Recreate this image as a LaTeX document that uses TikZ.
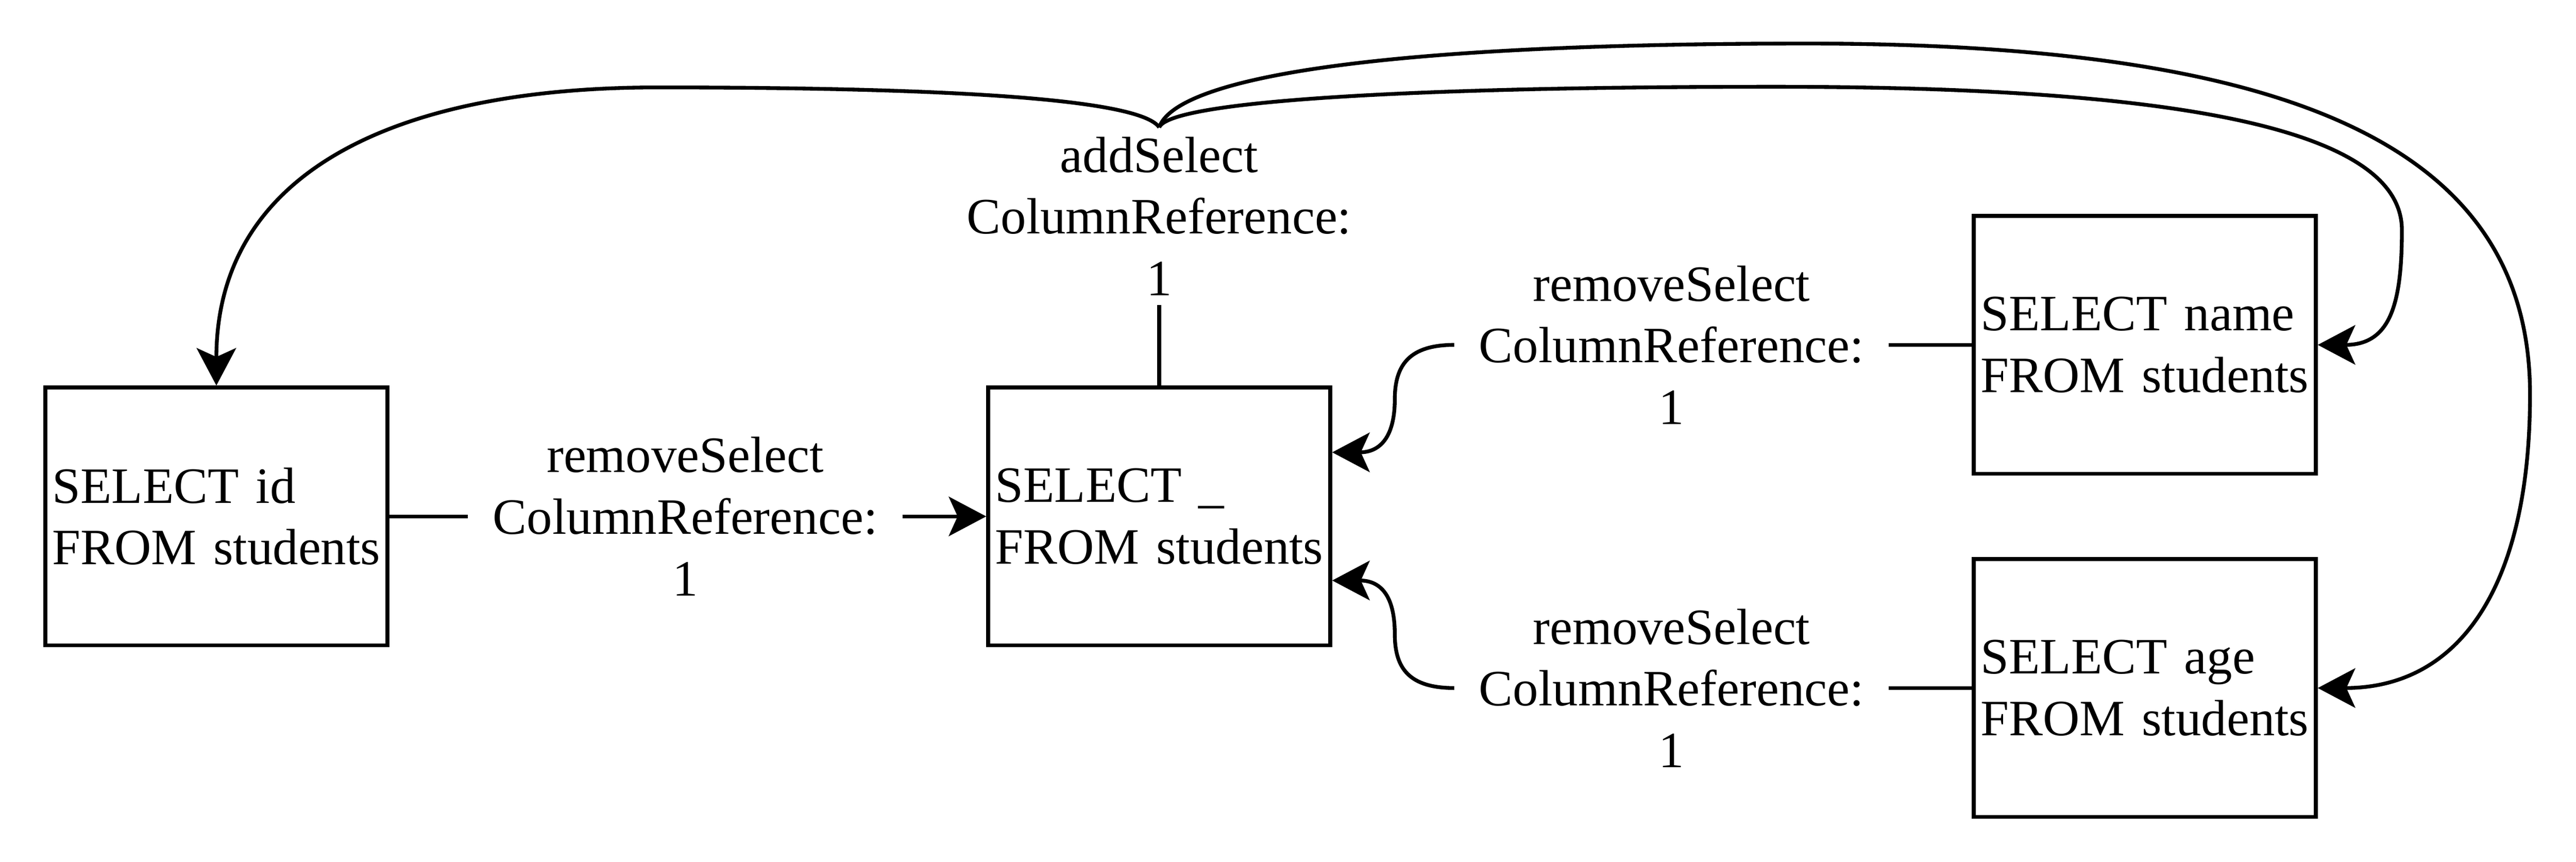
\documentclass[tikz,border=0pt]{standalone}
\usepackage{fontspec}
\setmainfont{Liberation Serif}
\usetikzlibrary{arrows.meta,calc}
\newcommand\dgfont{\fontsize{15.5pt}{18.75pt}\selectfont}
\begin{document}
\begin{tikzpicture}[x=0.5pt,y=-0.5pt,line width=1.15pt,
  box/.style={draw,rectangle,minimum width=104.15pt,minimum height=78.5pt,
    text width=99.95pt,inner xsep=2.1pt,inner ysep=0pt,align=left,font=\dgfont},
  lab/.style={align=center,inner xsep=7pt,inner ysep=2.35pt,font=\dgfont},
  arr/.style={-{Stealth[length=11.4pt,width=12pt,inset=2.7pt]}}]
\useasboundingbox (0,0) rectangle (1568,524.35);
% boxes
\node[box] (b1) at (131.7,314.3) {SELECT id\\FROM students};
\node[box] (b2) at (705.6,314.3) {SELECT \_\\FROM students};
\node[box] (b3) at (1305.5,209.9) {SELECT name\\FROM students};
\node[box] (b4) at (1305.5,418.75) {SELECT age\\FROM students};
% edge labels
\node[lab] (l1) at (417.1,314.3) {removeSelect\\ColumnReference:\\1};
\node[lab] (l2) at (705.6,131.6) {addSelect\\ColumnReference:\\1};
\node[lab] (l3) at (1017.4,209.9) {removeSelect\\ColumnReference:\\1};
\node[lab] (l4) at (1017.4,418.75) {removeSelect\\ColumnReference:\\1};
% entry points on the right side of b2
\coordinate (b2up) at ($(b2.east)+(0,-39)$);
\coordinate (b2dn) at ($(b2.east)+(0,39)$);
% straight connectors
\draw (b1.east) -- (l1.west);
\draw[arr] (l1.east) -- (b2.west);
\draw (b2.north) -- (l2.south);
\draw (b3.west) -- (l3.east);
\draw (b4.west) -- (l4.east);
% curved connectors into b2
\draw[arr] (l3.west) .. controls (858,209.9) and (849,222) .. (849,243)
  .. controls (849,266) and (840,275.3) .. (b2up);
\draw[arr] (l4.west) .. controls (858,418.75) and (849,407) .. (849,386)
  .. controls (849,362) and (840,353.3) .. (b2dn);
% curves from the addSelect label
\draw[arr] (l2.north) .. controls (695,62) and (600,53.2) .. (400,53.2)
  .. controls (240,53.2) and (131.7,105) .. (b1.north);
\draw[arr] (l2.north) .. controls (715,50) and (820,26.5) .. (1100,26.5)
  .. controls (1403,26.5) and (1540,93) .. (1540,240)
  .. controls (1540,358.3) and (1496.3,418.75) .. (b4.east);
\draw[arr] (l2.north) .. controls (712,62) and (850,52.8) .. (1080,52.8)
  .. controls (1338,52.8) and (1462,81.1) .. (1462,140)
  .. controls (1462,185) and (1455,209.9) .. (b3.east);
\end{tikzpicture}
\end{document}
